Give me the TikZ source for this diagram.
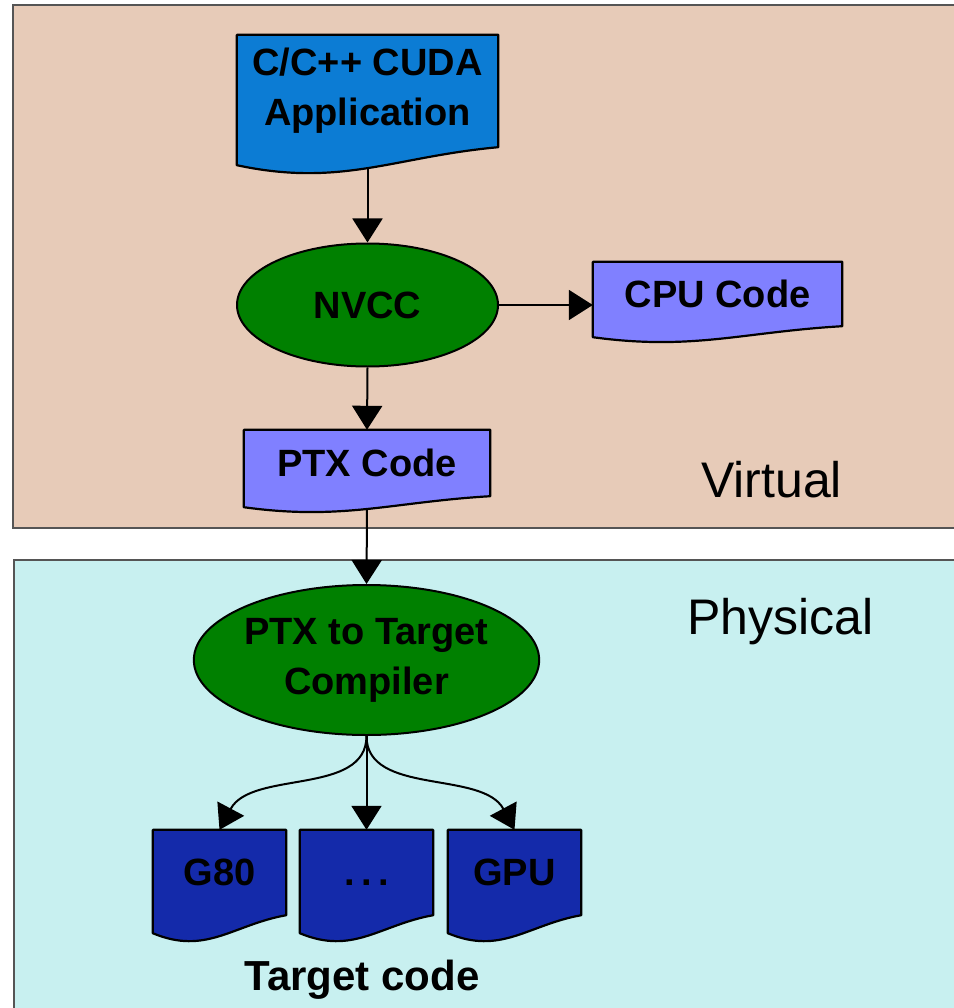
\documentclass[tikz,border=0pt]{standalone}
\usepackage{fontspec}
\setmainfont{Liberation Sans}
\usetikzlibrary{arrows.meta,calc,shapes.geometric}
\pgfdeclarelayer{back}
\pgfdeclarelayer{mid}
\pgfsetlayers{back,mid,main}

\definecolor{virtbg}{RGB}{231,203,184}
\definecolor{physbg}{RGB}{200,240,240}
\definecolor{appblue}{RGB}{12,124,212}
\definecolor{codeblue}{RGB}{128,128,255}
\definecolor{targblue}{RGB}{20,42,170}
\definecolor{nvgreen}{RGB}{0,128,0}
\definecolor{boxline}{RGB}{85,85,85}

\tikzset{
  lbl/.style={font=\bfseries\fontsize{38}{50}\selectfont, align=center, text=black},
  docnode/.style={lbl, rectangle, inner sep=0pt},
  procnode/.style={lbl, ellipse, draw=black, line width=2pt, fill=nvgreen, inner sep=0pt},
  docline/.style={draw=black, line width=2.2pt, line join=round},
  arr/.style={line width=2pt, -{Triangle[width=30pt,length=24pt]}},
  region/.style={draw=boxline, line width=2.5pt},
  tag/.style={font=\fontsize{50}{60}\selectfont, anchor=base}
}

% outline of a document behind node #1, left corner drops by #2
\newcommand{\docshape}[3]{%
  \path[docline, fill=#3] let \p1=(#1.north west), \p2=(#1.south east), \n1={\x2-\x1} in
    (\p1) -- (\x2,\y1) -- (\p2)
    .. controls (\x2-0.4*\n1,\y2-0.53*#2) and (\x1+0.4*\n1,\y2-2.24*#2) .. (\x1,\y2-#2) -- cycle;}

\begin{document}
\begin{tikzpicture}[x=1pt,y=-1pt]
  \clip (0,0) rectangle (953,1008);
  \begin{pgfonlayer}{back}
    \fill[white] (0,0) rectangle (953,1008);
    \draw[region, fill=virtbg] (13,5) rectangle (990,528);
    \draw[region, fill=physbg] (14,560) rectangle (990,1040);
  \end{pgfonlayer}

  \node[docnode, minimum width=261pt, minimum height=112pt] (app) at (367.5,91) {C/C++ CUDA\\Application};
  \node[procnode, minimum width=261pt, minimum height=123pt] (nvcc) at (367.5,305) {NVCC};
  \node[docnode, minimum width=249pt, minimum height=64pt] (cpu) at (717.5,294) {CPU Code};
  \node[docnode, minimum width=246pt, minimum height=66pt] (ptx) at (367,463) {PTX Code};
  \node[procnode, minimum width=341pt, minimum height=150pt] (comp) at (366.5,660) {PTX to Target\\Compiler};
  \node[docnode, minimum width=133pt, minimum height=85pt] (g80) at (219.5,872.5) {G80};
  \node[docnode, minimum width=133pt, minimum height=85pt] (dots) at (366.5,872.5) {\vphantom{G}.\,.\,.};
  \node[docnode, minimum width=133pt, minimum height=85pt] (gpu) at (514.5,872.5) {GPU};
  \node[lbl, font=\bfseries\fontsize{42}{50}\selectfont, anchor=base] (target) at (362,990) {Target code};
  \node[tag] (virt) at (771.5,497) {Virtual};
  \node[tag] (phys) at (780.5,634) {Physical};

  \begin{pgfonlayer}{mid}
    \docshape{app}{18pt}{appblue}
    \docshape{cpu}{11pt}{codeblue}
    \docshape{ptx}{11pt}{codeblue}
    \foreach \tgt in {g80,dots,gpu} {\docshape{\tgt}{18pt}{targblue}}
  \end{pgfonlayer}

  \draw[arr] ([yshift=-21pt]app.south) -- (nvcc.north);
  \draw[arr] (nvcc.east) -- (nvcc.east -| cpu.west);
  \draw[arr] (nvcc.south) -- (ptx.north);
  \draw[arr] ([yshift=-13pt]ptx.south) -- (comp.north);
  \draw[arr] (comp.south) .. controls ($(comp.south)+(0,60)$) and ($(g80.north)+(32,-60)$) .. (g80.north);
  \draw[arr] (comp.south) -- (dots.north);
  \draw[arr] (comp.south) .. controls ($(comp.south)+(0,60)$) and ($(gpu.north)+(-32,-60)$) .. (gpu.north);
\end{tikzpicture}
\end{document}
